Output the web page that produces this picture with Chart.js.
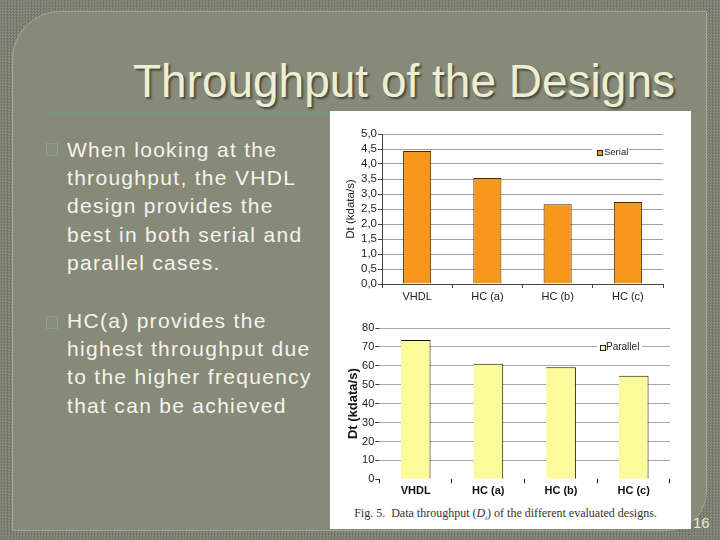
<!DOCTYPE html>
<html><head><meta charset="utf-8">
<script src="https://cdn.jsdelivr.net/npm/chart.js@4.4.1/dist/chart.umd.min.js"></script>
<style>
html,body{margin:0;padding:0;}
body{width:720px;height:540px;position:relative;overflow:hidden;
 background-color:#7f8271;
 background-image:repeating-conic-gradient(#72756a 0 25%, #8b8e7d 0 50%);
 background-size:3px 3px;
 font-family:"Liberation Sans",Arial,sans-serif;}
#frame{position:absolute;left:12px;top:11px;width:693px;height:518px;background:#878a79;
 border:1px solid #a4a792;border-top-left-radius:48px;border-bottom-right-radius:40px;}
#title{position:absolute;right:45px;top:58px;font-size:46px;line-height:46px;color:#eeeed2;
 text-shadow:2px 2px 2px rgba(40,42,30,0.65);white-space:nowrap;}
#rule{position:absolute;left:48px;top:112px;width:282px;height:3px;background:#78957a;}
.para{position:absolute;left:67px;font-size:21px;line-height:28.2px;letter-spacing:1.3px;color:#f4f4ec;white-space:nowrap;}
.bul{position:absolute;left:46px;width:10px;height:11px;border:1px solid #8d9f89;background:#868d7c;}
#white{position:absolute;left:330px;top:111px;width:361px;height:418px;background:#fff;}
canvas{position:absolute;left:330px;}
#cap{position:absolute;left:330px;width:351px;top:506px;text-align:center;font-family:"Liberation Serif","Times New Roman",serif;font-size:12px;color:#333;white-space:nowrap;}
#num{position:absolute;left:693px;top:514px;font-size:15px;color:#e8e8d2;}
</style></head>
<body>
<div id="frame"></div>
<div id="title">Throughput of the Designs</div>
<div id="rule"></div>
<div class="bul" style="top:143px"></div>
<div class="para" style="top:136px">When looking at the<br>throughput, the VHDL<br>design provides the<br>best in both serial and<br>parallel cases.</div>
<div class="bul" style="top:316px"></div>
<div class="para" style="top:307px">HC(a) provides the<br>highest throughput due<br>to the higher frequency<br>that can be achieved</div>
<div id="white"></div>
<canvas id="c1" width="360" height="195" style="top:112px"></canvas>
<canvas id="c2" width="360" height="190" style="top:310px"></canvas>
<div id="cap">Fig. 5.&nbsp; Data throughput (<i>D</i><sub style="font-size:7px"><i>t</i></sub>) of the different evaluated designs.</div>
<div id="num">16</div>
<script>
const categories = ['VHDL', 'HC (a)', 'HC (b)', 'HC (c)'];
const serialValues = [4.43, 3.53, 2.66, 2.73];
const parallelValues = [73.6, 61.1, 59.3, 54.7];
const serialTickLabels = ['0,0','0,5','1,0','1,5','2,0','2,5','3,0','3,5','4,0','4,5','5,0'];
const parallelTickLabels = ['0','10','20','30','40','50','60','70','80'];
const axisTitle = 'Dt (kdata/s)';

const innerLegend = {
  id: 'innerLegend',
  afterDraw(chart, args, o) {
    const ctx = chart.ctx;
    const ds = chart.data.datasets[0];
    ctx.save();
    ctx.fillStyle = '#fff';
    ctx.fillRect(o.bx, o.by, o.bw, o.bh);
    ctx.fillStyle = ds.backgroundColor;
    ctx.fillRect(o.sx, o.sy, o.ss, o.ss);
    ctx.strokeStyle = '#222';
    ctx.lineWidth = 1;
    ctx.strokeRect(o.sx + 0.5, o.sy + 0.5, o.ss - 1, o.ss - 1);
    ctx.fillStyle = '#222';
    ctx.font = o.font;
    ctx.textBaseline = 'middle';
    ctx.fillText(ds.label, o.tx, o.ty);
    ctx.restore();
  }
};
Chart.register(innerLegend);

new Chart(document.getElementById('c1'), {
  type: 'bar',
  data: { labels: categories, datasets: [{
    label: 'Serial', data: serialValues, backgroundColor: '#f7981d',
    borderColor: '#3b2a12', borderWidth: 1, borderSkipped: 'bottom',
    barPercentage: 0.4, categoryPercentage: 1 }] },
  options: {
    responsive: false, animation: false, devicePixelRatio: 1,
    layout: { padding: { left: 0, right: 27, top: 22, bottom: 0 } },
    plugins: { legend: { display: false }, tooltip: { enabled: false },
      innerLegend: { bx: 262, by: 34, bw: 37, bh: 12, sx: 267, sy: 38, ss: 6, tx: 274, ty: 40, font: '9.5px "Liberation Sans", Arial' } },
    scales: {
      x: { grid: { display: true, drawOnChartArea: false, drawTicks: true, tickLength: 4, tickColor: '#444', offset: true },
           border: { display: true, color: '#444' },
           ticks: { color: '#222', font: { family: 'Liberation Sans', size: 11 }, padding: 2 },
           afterFit(s) { s.height = 23; } },
      y: { min: 0, max: 5,
           ticks: { stepSize: 0.5, autoSkip: false, color: '#222', padding: 1, font: { family: 'Liberation Sans', size: 11.5 },
                    callback: (v, i) => serialTickLabels[i] },
           grid: { color: '#a0a0a0', tickLength: 4, tickColor: '#444' },
           border: { display: true, color: '#444' },
           title: { display: true, text: axisTitle, color: '#222', font: { family: 'Liberation Sans', size: 11.5 }, padding: { top: 14, bottom: 0 } },
           afterFit(s) { s.width = 52; } }
    }
  }
});

new Chart(document.getElementById('c2'), {
  type: 'bar',
  data: { labels: categories, datasets: [{
    label: 'Parallel', data: parallelValues, backgroundColor: '#fbfb9c',
    borderColor: '#111', borderWidth: { top: 1, right: 1, left: 0, bottom: 0 }, borderSkipped: false,
    barPercentage: 0.41, categoryPercentage: 1 }] },
  options: {
    responsive: false, animation: false, devicePixelRatio: 1,
    layout: { padding: { left: 0, right: 20, top: 18, bottom: 0 } },
    plugins: { legend: { display: false }, tooltip: { enabled: false },
      innerLegend: { bx: 267, by: 31, bw: 45, bh: 12, sx: 270, sy: 35, ss: 6, tx: 276, ty: 37.5, font: '10px "Liberation Sans", Arial' } },
    scales: {
      x: { grid: { display: true, drawOnChartArea: false, drawTicks: true, tickLength: 4, tickColor: '#222', offset: true },
           border: { display: false },
           ticks: { color: '#111', font: { family: 'Liberation Sans', size: 11, weight: 'bold' }, padding: 1 },
           afterFit(s) { s.height = 20.7; } },
      y: { min: 0, max: 80,
           ticks: { stepSize: 10, autoSkip: false, color: '#222', padding: 1, font: { family: 'Liberation Sans', size: 11 },
                    callback: (v, i) => parallelTickLabels[i] },
           grid: { color: (c) => (c.tick && c.tick.value === 0) ? 'rgba(0,0,0,0)' : '#a8a8a8', tickLength: 4, tickColor: '#333' },
           border: { display: false },
           title: { display: true, text: axisTitle, color: '#111', font: { family: 'Liberation Sans', size: 13, weight: 'bold' }, padding: { top: 16, bottom: 0 } },
           afterFit(s) { s.width = 49.3; } }
    }
  }
});
</script>
</body></html>
